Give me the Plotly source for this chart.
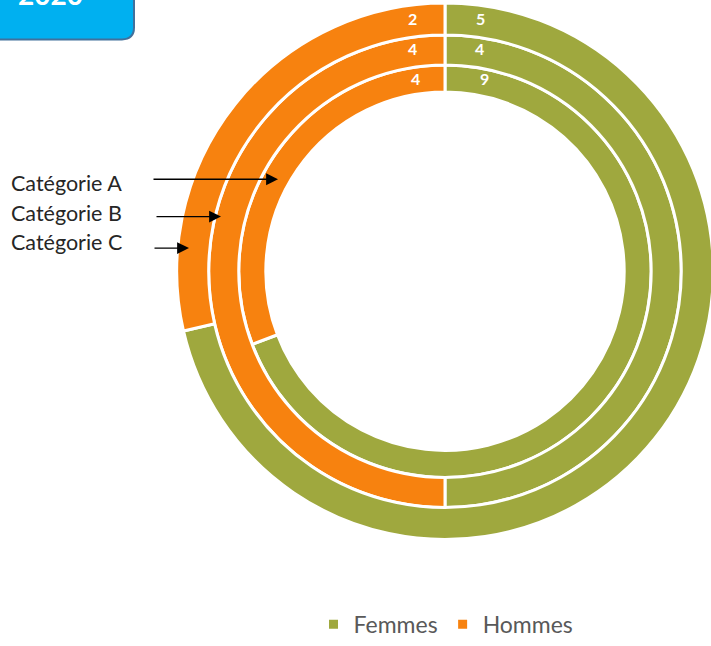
import plotly.graph_objects as go

# Data: rings from inner to outer
categories = ["Catégorie A", "Catégorie B", "Catégorie C"]
genres = ["Femmes", "Hommes"]
femmes = [9, 4, 5]
hommes = [4, 4, 2]
title_year = "2020"

colors = {"Femmes": "#9FA83E", "Hommes": "#F7820F"}

# The canvas is a little wider than the view so the outer ring can run off the right edge
W, H = 720, 646
CX, CY = 445, 275.5          # ring centre in pixels (from top-left)
radii = [209.5, 240, 272.5]  # outer radius of each ring, inner to outer
hole_r = 182                 # radius of the central hole
FONT = "Lato, Open Sans, sans-serif"


def px_to_paper(x, y):
    return x / W, 1 - y / H


fig = go.Figure()
inner_edges = [hole_r] + radii[:-1]
for i, cat in enumerate(categories):
    R = radii[i]
    x0, x1 = max((CX - R) / W, 0.0), min((CX + R) / W, 1.0)
    y0, y1 = (H - CY - R) / H, (H - CY + R) / H
    fig.add_trace(go.Pie(
        labels=genres,
        values=[femmes[i], hommes[i]],
        name=cat,
        sort=False,
        direction="clockwise",
        rotation=0,
        hole=inner_edges[i] / R,
        domain=dict(x=[x0, x1], y=[y0, y1]),
        marker=dict(colors=[colors[g] for g in genres],
                    line=dict(color="white", width=3)),
        textinfo="none",
        hoverinfo="label+value+name",
        showlegend=(i == 0),
    ))

annotations = []
# value labels near the top of each ring
label_pos = [((416, 80), (484, 80)), ((412, 49), (479, 49)), ((412, 19), (480, 19))]
for i in range(len(categories)):
    for val, (x, y) in zip((hommes[i], femmes[i]), label_pos[i]):
        xp, yp = px_to_paper(x, y)
        annotations.append(dict(
            x=xp, y=yp, xref="paper", yref="paper", text="<b>%d</b>" % val,
            showarrow=False, xanchor="center", yanchor="middle",
            font=dict(family=FONT, size=16, color="white"),
        ))

# category captions with arrows pointing at their rings
caption_y = [186, 216, 246]
arrow_y = [182, 220, 252]
arrow_tail = [152, 155, 153]
arrow_tip = [278, 221, 189]
for i, cat in enumerate(categories):
    xp, yp = px_to_paper(9, caption_y[i])
    annotations.append(dict(
        x=xp, y=yp, xref="paper", yref="paper", text=cat, showarrow=False,
        xanchor="left", yanchor="middle",
        font=dict(family=FONT, size=21.5, color="#262626"),
    ))
    tx, ty = px_to_paper(arrow_tip[i], arrow_y[i])
    annotations.append(dict(
        x=tx, y=ty, xref="paper", yref="paper", text="", showarrow=True,
        ax=arrow_tail[i] - arrow_tip[i], ay=0,
        arrowhead=2, arrowsize=1.7, arrowwidth=1.4, arrowcolor="black",
        standoff=0,
    ))

# year badge in the top-left corner
bx, by = px_to_paper(50, -6)
annotations.append(dict(
    x=bx, y=by, xref="paper", yref="paper", text="<b>" + title_year + "</b>",
    showarrow=False, xanchor="center", yanchor="middle",
    font=dict(family=FONT, size=28, color="white"),
))


def badge_path():
    left, right, top, bottom, r = -10, 134, -30, 40, 12

    def p(x, y):
        xx, yy = px_to_paper(x, y)
        return f"{xx:.5f},{yy:.5f}"
    return (f"M {p(left, top)} L {p(right, top)} L {p(right, bottom - r)} "
            f"Q {p(right, bottom)} {p(right - r, bottom)} "
            f"L {p(left, bottom)} Z")


shapes = [dict(
    type="path", xref="paper", yref="paper", path=badge_path(),
    fillcolor="#00B0F0", line=dict(color="#41719C", width=2), layer="below",
)]

legend_x, _ = px_to_paper(446, 0)
fig.update_layout(
    width=W, height=H,
    margin=dict(l=0, r=0, t=0, b=0),
    paper_bgcolor="white", plot_bgcolor="white",
    annotations=annotations,
    shapes=shapes,
    legend=dict(
        orientation="h", x=legend_x, y=1 - 634 / H, xanchor="center", yanchor="middle",
        font=dict(family=FONT, size=23, color="#595959"),
        itemwidth=30, traceorder="normal",
    ),
)

fig.write_html(
    "out.html",
    post_script="document.documentElement.style.overflow='hidden';"
                "document.body.style.overflow='hidden';",
)
